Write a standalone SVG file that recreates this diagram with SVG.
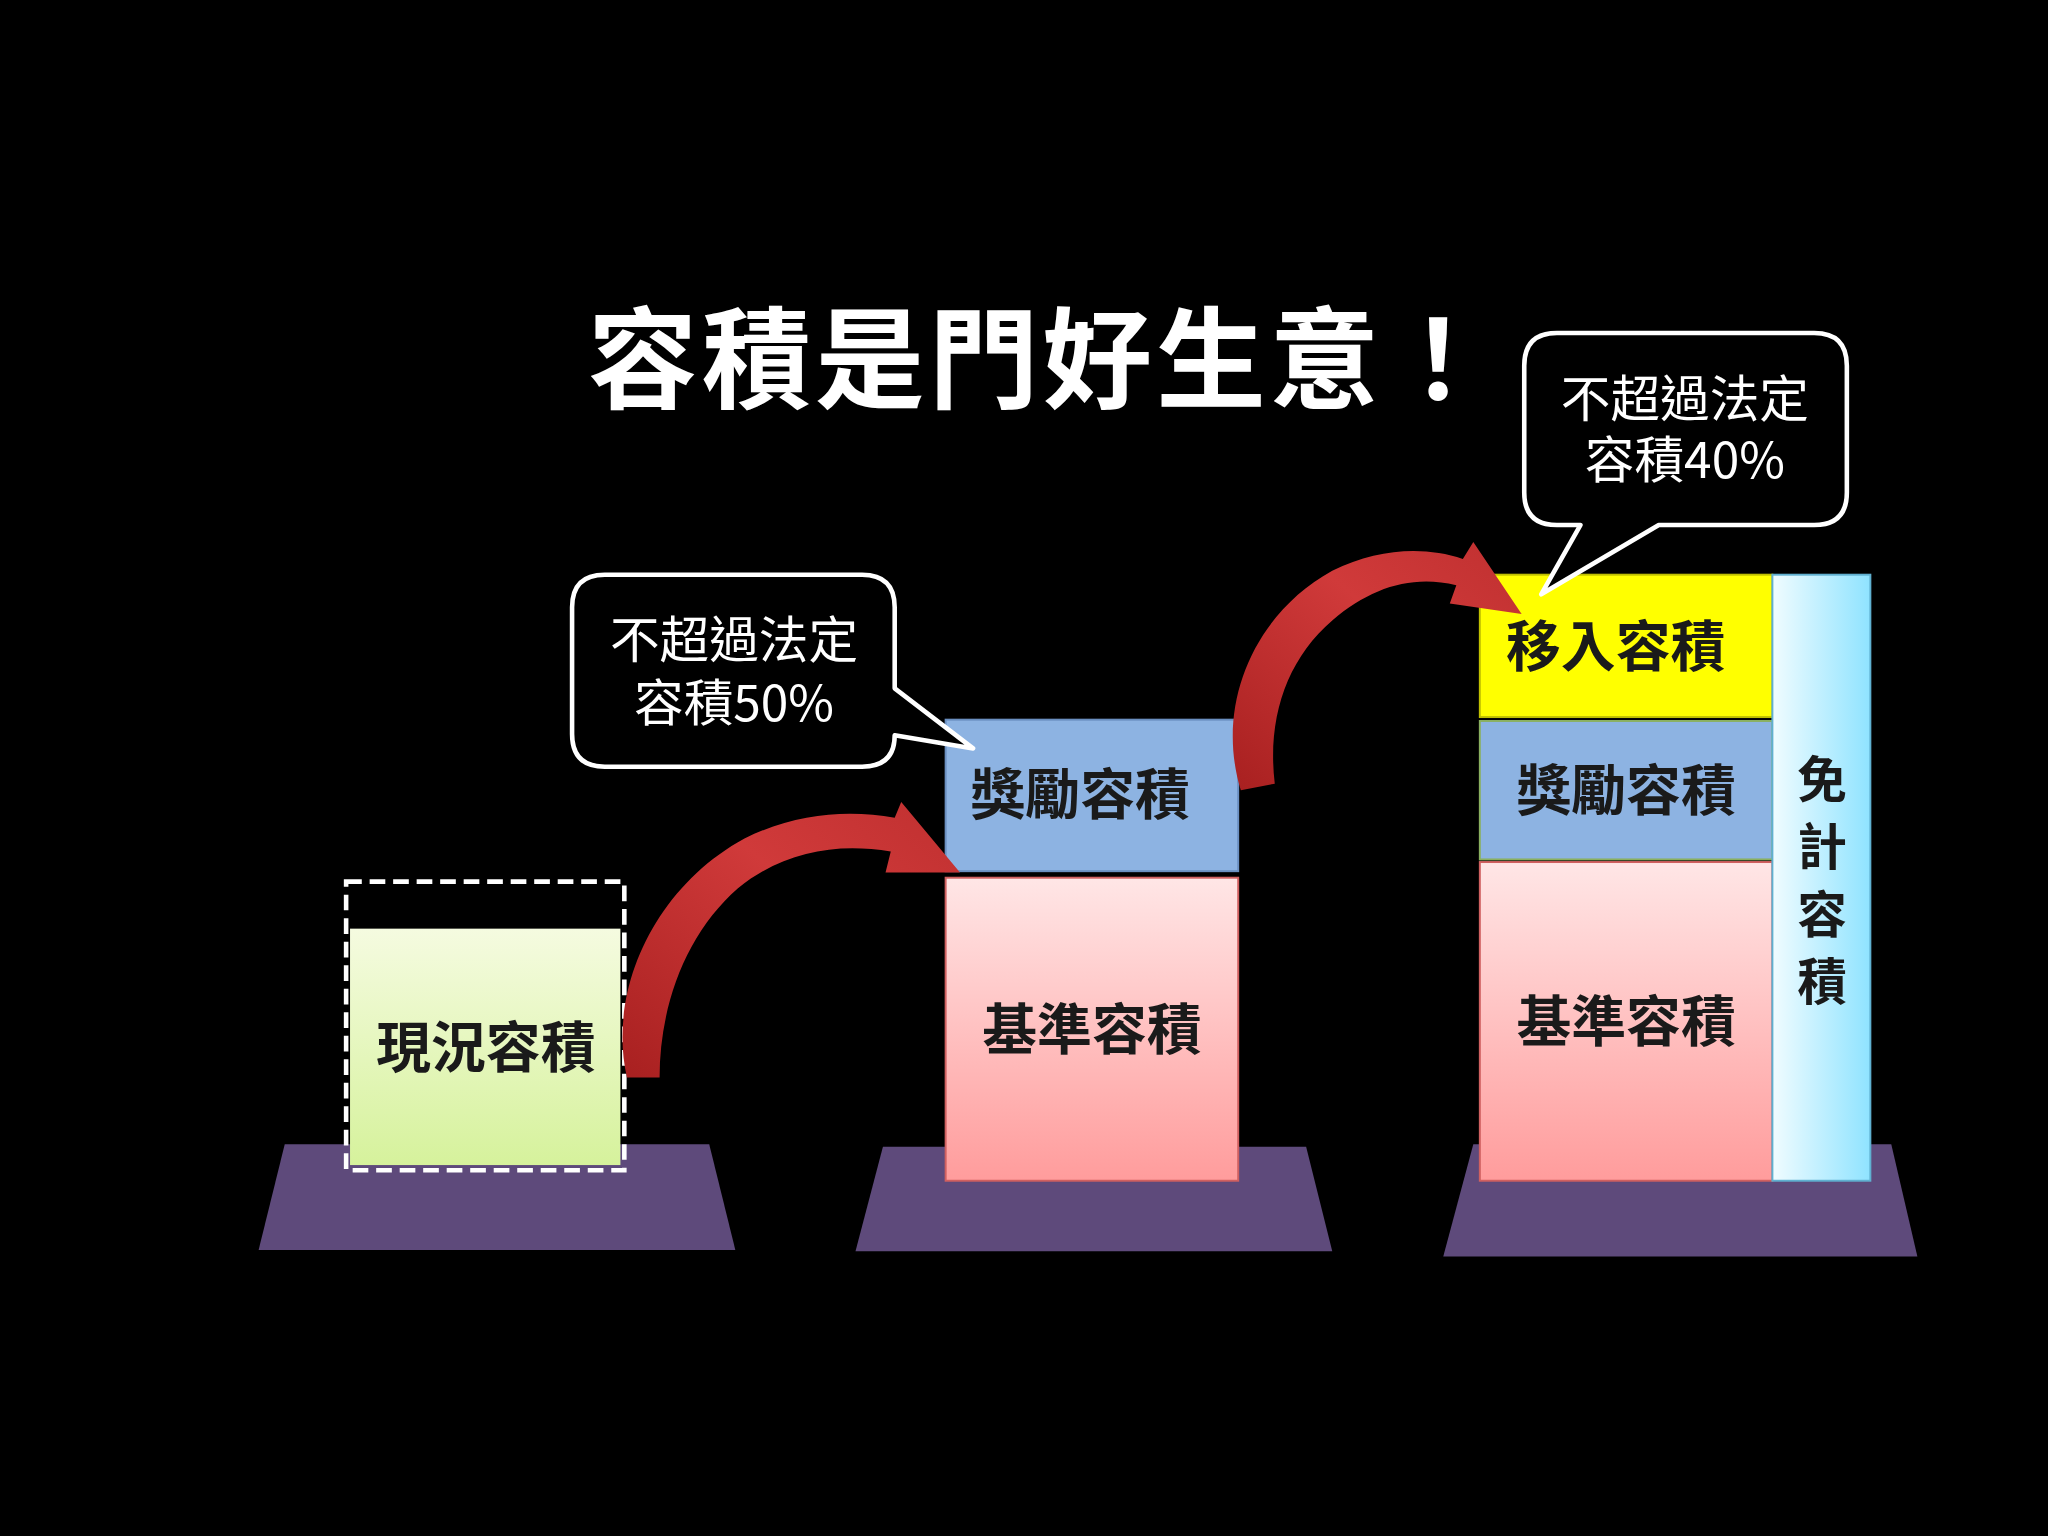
<svg xmlns="http://www.w3.org/2000/svg" width="2048" height="1536" viewBox="0 0 2048 1536">
<defs>
<linearGradient id="gG" x1="0" y1="0" x2="0" y2="1"><stop offset="0" stop-color="#F5FBE0"/><stop offset="1" stop-color="#D6F29C"/></linearGradient>
<linearGradient id="gP" x1="0" y1="0" x2="0" y2="1"><stop offset="0" stop-color="#FFE6E6"/><stop offset="1" stop-color="#FF9C9C"/></linearGradient>
<linearGradient id="gC" x1="0" y1="0" x2="1" y2="0"><stop offset="0" stop-color="#F0FCFF"/><stop offset="1" stop-color="#8FE3FF"/></linearGradient>
<linearGradient id="gR" x1="0" y1="1" x2="1" y2="0"><stop offset="0" stop-color="#A82020"/><stop offset="0.6" stop-color="#D03A3A"/><stop offset="1" stop-color="#C03030"/></linearGradient>
<style>
.pl{fill:#5E4A7B}
.lbl{font-family:"Noto Sans CJK TC","Noto Sans CJK SC",sans-serif;font-weight:bold;font-size:42px;fill:#1a1a1a;text-anchor:middle}
.vl{font-size:38px}
.cal{font-family:"Noto Sans CJK TC","Noto Sans CJK SC",sans-serif;font-size:38px;fill:#fff;text-anchor:middle}
.bub{fill:#000;stroke:#fff;stroke-width:3.5;stroke-linejoin:round}
</style>
</defs>
<rect width="2048" height="1536" fill="#000"/>
<g transform="scale(1.30612)">
<text x="798" y="306" font-family="Noto Sans CJK TC,Noto Sans CJK SC,sans-serif" font-weight="bold" font-size="84" letter-spacing="3" fill="#fff" text-anchor="middle">容積是門好生意！</text>
<g id="platform1"><polygon class="pl" points="218,876 543,876 563,957 198,957"/></g>
<g id="platform2"><polygon class="pl" points="676,878 1000,878 1020,958 655,958"/></g>
<g id="platform3"><polygon class="pl" points="1128,876 1448,876 1468,962 1105,962"/></g>
<g id="current">
<rect x="268" y="711" width="207" height="181" fill="url(#gG)"/>
<rect x="265" y="675" width="213" height="221" fill="none" stroke="#fff" stroke-width="3.5" stroke-dasharray="12,6"/>
<text class="lbl" x="372" y="817">現況容積</text>
</g>
<g id="bonus2"><rect x="724" y="551" width="224" height="116" fill="#8DB3E2" stroke="#6A8FC0" stroke-width="1.5"/><text class="lbl" x="827" y="623">獎勵容積</text></g>
<g id="base2"><rect x="724" y="672" width="224" height="232" fill="url(#gP)" stroke="#D06060" stroke-width="1.5"/><text class="lbl" x="836" y="803">基準容積</text></g>
<g id="transfer3"><rect x="1133" y="440" width="224" height="109" fill="#FFFF00" stroke="#C0C000" stroke-width="1.5"/><text class="lbl" x="1237" y="510">移入容積</text></g>
<g id="bonus3"><rect x="1133" y="552" width="224" height="106" fill="#8DB3E2" stroke="#8AB060" stroke-width="1.5"/><text class="lbl" x="1245" y="620">獎勵容積</text></g>
<g id="base3"><rect x="1133" y="660" width="224" height="244" fill="url(#gP)" stroke="#D06060" stroke-width="1.5"/><text class="lbl" x="1245" y="797">基準容積</text></g>
<g id="exempt3"><rect x="1357" y="440" width="75" height="464" fill="url(#gC)" stroke="#60B0D0" stroke-width="1.5"/>
<text class="lbl vl" x="1395" y="611">免</text><text class="lbl vl" x="1395" y="662">計</text><text class="lbl vl" x="1395" y="714">容</text><text class="lbl vl" x="1395" y="766">積</text></g>
<g id="callout1"><path class="bub" d="M463,440 H660 Q685,440 685,465 V527 L745,573 L685,563 Q685,587 660,587 H463 Q438,587 438,562 V465 Q438,440 463,440 Z"/>
<text class="cal" x="562" y="504">不超過法定</text><text class="cal" x="562" y="552">容積50%</text></g>
<g id="callout2"><path class="bub" d="M1192,255 H1389 Q1414,255 1414,280 V377 Q1414,402 1389,402 H1270 L1180,455 L1210,402 H1192 Q1167,402 1167,377 V280 Q1167,255 1192,255 Z"/>
<text class="cal" x="1290" y="319">不超過法定</text><text class="cal" x="1290" y="366">容積40%</text></g>
<g id="connectors">
<path fill="url(#gR)" d="M480,825 C465,760 500,680 570,642 C610,622 650,620 685,626 L690,614 L735,668 L678,668 L682,652 C640,645 600,652 565,680 C525,715 505,770 505,825 Z"/>
<path fill="url(#gR)" d="M950,605 C930,540 960,470 1020,437 C1055,420 1090,418 1120,428 L1128,415 L1165,470 L1110,462 L1115,448 C1080,440 1050,450 1020,475 C985,505 970,550 976,600 Z"/>
</g>
</g>
</svg>
